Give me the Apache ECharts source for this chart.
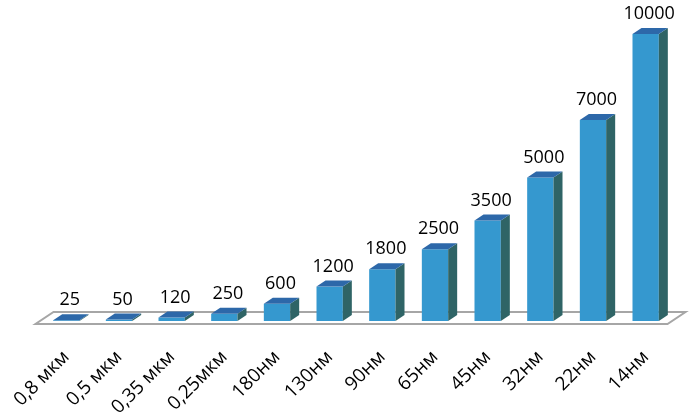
<!DOCTYPE html>
<html>
<head>
<meta charset="utf-8">
<script src="https://cdn.jsdelivr.net/npm/echarts@6/dist/echarts.min.js"></script>
<style>
  html, body { margin: 0; padding: 0; background: #fff; }
  #chart { width: 691px; height: 417px; }
</style>
</head>
<body>
<div id="chart"></div>
<script>
var categories = ['0,8 мкм', '0,5 мкм', '0,35 мкм', '0,25мкм', '180нм', '130нм', '90нм', '65нм', '45нм', '32нм', '22нм', '14нм'];
var values = [25, 50, 120, 250, 600, 1200, 1800, 2500, 3500, 5000, 7000, 10000];

// 3d look
var DX = 9, DY = 6;          // bar depth offset
var FDX = 18, FDY = 12;      // floor depth
var FRONT = '#3598cf', TOP = '#2d68a9', SIDE = '#2f6466';
var FONT = '"Open Sans", sans-serif';

function renderFloor(params, api) {
    var cs = params.coordSys;
    var yb = cs.y + cs.height;
    var left = cs.x - FDX / 4, right = cs.x + cs.width - FDX / 4;
    return {
        type: 'polygon',
        shape: { points: [[left, yb + FDY / 4], [right, yb + FDY / 4], [right + FDX, yb + FDY / 4 - FDY], [left + FDX, yb + FDY / 4 - FDY]] },
        style: { fill: '#fff', stroke: '#a6a6a6', lineWidth: 2 }
    };
}

function renderBar(params, api) {
    var base = api.coord([api.value(0), 0]);
    var top = api.coord([api.value(0), api.value(1)]);
    var w = api.size([1, 0])[0] * 0.5;
    var x0 = top[0] - w / 2, x1 = top[0] + w / 2;
    var y0 = top[1], yb = base[1];
    return {
        type: 'group',
        children: [
            { type: 'polygon', shape: { points: [[x0, yb], [x1, yb], [x1, y0], [x0, y0]] }, style: { fill: FRONT } },
            { type: 'polygon', shape: { points: [[x1, yb], [x1 + DX, yb - DY], [x1 + DX, y0 - DY], [x1, y0]] }, style: { fill: SIDE } },
            { type: 'polygon', shape: { points: [[x0, y0], [x1, y0], [x1 + DX, y0 - DY], [x0 + DX, y0 - DY]] }, style: { fill: TOP } },
            {
                type: 'text',
                style: {
                    text: String(api.value(1)), x: (x0 + x1 + DX) / 2 - 1, y: y0 - DY - 5,
                    align: 'center', verticalAlign: 'bottom',
                    fontSize: 18, fontFamily: FONT, fill: '#000'
                }
            }
        ]
    };
}

var chart = echarts.init(document.getElementById('chart'));
chart.setOption({
    animation: false,
    grid: { left: 40, right: 19, top: 34, bottom: 96, containLabel: false, outerBoundsMode: 'none' },
    xAxis: {
        type: 'category',
        data: categories,
        axisLine: { show: false },
        axisTick: { show: false },
        axisLabel: { rotate: 45, margin: 33, fontSize: 19, fontFamily: FONT, color: '#000', interval: 0 }
    },
    yAxis: { type: 'value', min: 0, max: 10000, show: false, splitLine: { show: false } },
    series: [
        { type: 'custom', z: 1, silent: true, renderItem: renderFloor, data: [[0, 0]] },
        {
            type: 'custom', z: 2, renderItem: renderBar,
            data: values.map(function (v, i) { return [i, v]; })
        }
    ]
});
</script>
</body>
</html>
